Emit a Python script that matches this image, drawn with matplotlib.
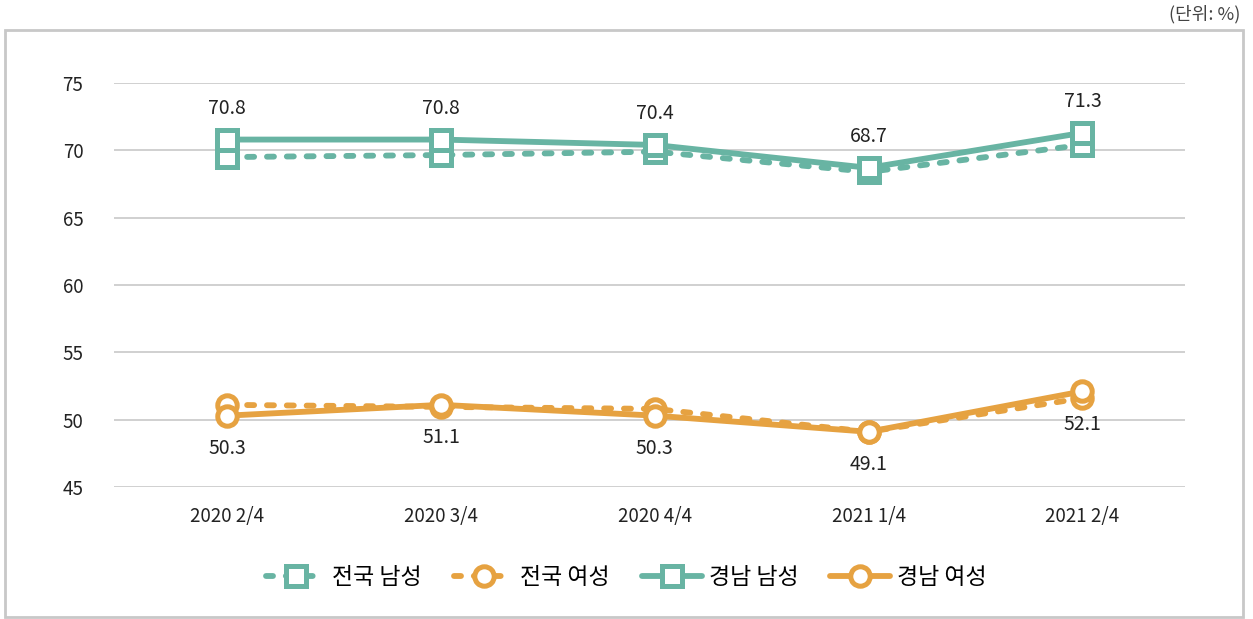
import matplotlib

matplotlib.use("Agg")

import matplotlib.pyplot as plt
from matplotlib.patches import Rectangle

plt.rcParams["font.family"] = ["Noto Sans CJK KR", "DejaVu Sans"]

quarters = ["2020 2/4", "2020 3/4", "2020 4/4", "2021 1/4", "2021 2/4"]
national_male = [69.5, 69.65, 69.9, 68.4, 70.4]
national_female = [51.1, 50.95, 50.8, 49.1, 51.6]
gn_male = [70.8, 70.8, 70.4, 68.7, 71.3]
gn_female = [50.3, 51.1, 50.3, 49.1, 52.1]
yticks = [45, 50, 55, 60, 65, 70, 75]

TEAL = "#68b4a3"
ORANGE = "#e6a241"

fig = plt.figure(figsize=(12.53, 6.19), dpi=100)
ax = fig.add_axes([114 / 1253, 1 - 487 / 619, (1185 - 114) / 1253, (487 - 83) / 619])

# outer frame
fig.patches.append(Rectangle((5 / 1253, 2 / 619), 1238 / 1253, 587 / 619, transform=fig.transFigure,
                             fill=False, edgecolor="#c8c8c8", linewidth=2))

x = list(range(len(quarters)))
dash = dict(linestyle=(0, (1.2, 2.2)), dash_capstyle="round", linewidth=4.2)
solid = dict(linestyle="-", linewidth=4.2, solid_capstyle="round")
mk = dict(markersize=14, markerfacecolor="white", markeredgewidth=3.6, clip_on=False)

ax.plot(x, national_male, color=TEAL, marker="s", label="전국 남성", zorder=3, **mk, **dash)
ax.plot(x, national_female, color=ORANGE, marker="o", label="전국 여성", zorder=3, **mk, **dash)
ax.plot(x, gn_male, color=TEAL, marker="s", label="경남 남성", zorder=4, **mk, **solid)
ax.plot(x, gn_female, color=ORANGE, marker="o", label="경남 여성", zorder=4, **mk, **solid)

for xi, v in zip(x, gn_male):
    ax.annotate(f"{v:.1f}", (xi, v), xytext=(0, 15), textcoords="offset points",
                ha="center", va="bottom", fontsize=14, color="#222222")
for xi, v in zip(x, gn_female):
    ax.annotate(f"{v:.1f}", (xi, v), xytext=(0, -16), textcoords="offset points",
                ha="center", va="top", fontsize=14, color="#222222")

ax.set_xlim(-0.53, 4.48)
ax.set_ylim(45, 75)
ax.set_yticks(yticks)
ax.set_xticks(x, labels=quarters)
ax.tick_params(axis="both", length=0, labelsize=13.5, colors="#222222")
ax.tick_params(axis="y", pad=22)
ax.tick_params(axis="x", pad=14)
ax.grid(True, axis="y", color="#c8c8c8", linewidth=1.2)
ax.set_axisbelow(True)
for s in ax.spines.values():
    s.set_visible(False)

fig.text(1240 / 1253, 1 - 14 / 619, "(단위: %)", ha="right", va="center", fontsize=13, color="#444444")

fig.legend(loc="center", bbox_to_anchor=(626 / 1253, 1 - 578 / 619), ncol=4, frameon=False,
           fontsize=16.5, handlelength=2.6, handletextpad=0.3, columnspacing=1.4)

fig.savefig("out.png", dpi=100)
